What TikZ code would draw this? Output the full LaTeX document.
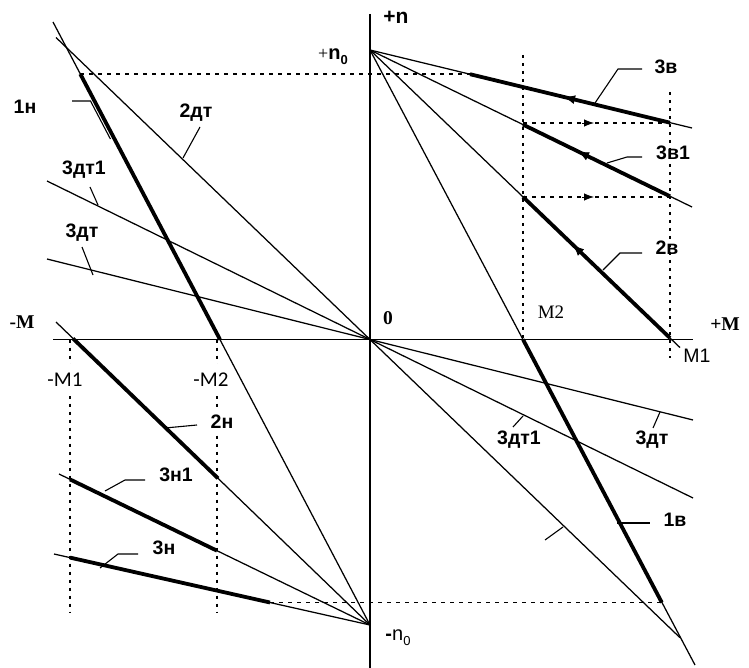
\documentclass[tikz,border=0pt]{standalone}
\usepackage{fontspec}
\setmainfont{Liberation Serif}
\setsansfont{Liberation Sans}
\newfontfamily\carl{Carlito}
\usetikzlibrary{arrows.meta}
\begin{document}
\begin{tikzpicture}[x=1pt,y=-1pt,
  thinln/.style={line width=1.25pt},
  thickln/.style={line width=3.8pt},
  axisln/.style={line width=1.1pt},
  dashln/.style={line width=1.2pt,dash pattern=on 4pt off 5pt},
  dotln/.style={line width=1.7pt,dash pattern=on 3pt off 5pt},
  leader/.style={line width=1.1pt},
  tipln/.style={line width=0.8pt,-{Latex[length=11pt,width=9pt]}},
  dtipln/.style={line width=0.8pt,-{Latex[length=10pt,width=7.5pt]}},
  lbl/.style={font=\fontsize{19.5}{22}\selectfont\sffamily\bfseries,inner sep=1pt},
  slbl/.style={font=\fontsize{19.5}{22}\selectfont\rmfamily\bfseries,inner sep=1pt},
  mlbl/.style={font=\fontsize{19}{22}\selectfont\rmfamily,inner sep=1pt},
  clbl/.style={font=\fontsize{21}{22}\selectfont\carl,inner sep=1pt},
  wbox/.style={fill=white,inner xsep=3pt,inner ysep=9pt}]
\useasboundingbox (0,0) rectangle (749,668);
% key points
\coordinate (N0) at (370,50);
\coordinate (O) at (370,339.5);
\coordinate (Nm) at (370,625);
% axes
\coordinate (ax1) at (53,339.5); \coordinate (ax2) at (693,339.5);
\coordinate (ay1) at (370,14);   \coordinate (ay2) at (370,668);
\draw[axisln] (ax1) -- (ax2);
\draw[axisln] (ay1) -- (ay2);
% dotted verticals
\coordinate (m2t) at (523,55);  \coordinate (m2b) at (523,339.5);
\coordinate (m1t) at (670,92);  \coordinate (m1b) at (670,358);
\coordinate (mm1t) at (70,339.5); \coordinate (mm1b) at (70,613);
\coordinate (mm2t) at (217,339.5); \coordinate (mm2b) at (217,613);
\draw[dotln] (m2t) -- (m2b);
\draw[dotln] (m1t) -- (m1b);
\draw[dotln] (mm1t) -- (mm1b);
\draw[dotln] (mm2t) -- (mm2b);
% dashed horizontals
\coordinate (d1a) at (80.3,74); \coordinate (d1b) at (470,74);
\coordinate (d2a) at (270,602.5); \coordinate (d2b) at (661.8,602.5);
\coordinate (d3a) at (523,123); \coordinate (d3b) at (670,123);
\coordinate (d4a) at (523,197); \coordinate (d4b) at (670,197);
\draw[dashln] (d1a) -- (d1b);
\draw[dashln] (d2a) -- (d2b);
\draw[dashln] (d3a) -- (d3b);
\draw[dashln] (d4a) -- (d4b);
% lines through origin
\coordinate (t2a) at (56,37.5);  \coordinate (t2b) at (680,637.7);
\coordinate (t31a) at (47,181);  \coordinate (t31b) at (693,498);
\coordinate (t3a) at (47,259);   \coordinate (t3b) at (693,420);
\draw[thinln] (t2a) -- (t2b);
\draw[thinln] (t31a) -- (t31b);
\draw[thinln] (t3a) -- (t3b);
% line 1n
\coordinate (l1a) at (53,22);
\draw[thinln] (l1a) -- (Nm);
\coordinate (l1s) at (80.3,74); \coordinate (l1e) at (220,339.5);
\draw[thickln] (l1s) -- (l1e);
% line 1v
\coordinate (v1e) at (695,665);
\draw[thinln] (N0) -- (v1e);
\coordinate (v1s) at (523,339.5); \coordinate (v1t) at (661.8,602.5);
\draw[thickln] (v1s) -- (v1t);
% 3v
\coordinate (v3e) at (692,128);
\draw[thinln] (N0) -- (v3e);
\coordinate (v3s) at (470,74.2); \coordinate (v3t) at (670,122.7);
\draw[thickln] (v3s) -- (v3t);
% 3v1
\coordinate (v31e) at (692,207);
\draw[thinln] (N0) -- (v31e);
\coordinate (v31s) at (523,124.6); \coordinate (v31t) at (670,196.3);
\draw[thickln] (v31s) -- (v31t);
% 2v
\coordinate (v2e) at (680,347.6);
\draw[thinln] (N0) -- (v2e);
\coordinate (v2s) at (523,196.9); \coordinate (v2t) at (670,338);
\draw[thickln] (v2s) -- (v2t);
% 2n
\coordinate (n2a) at (56,322);
\draw[thinln] (n2a) -- (Nm);
\coordinate (n2s) at (73,338.5); \coordinate (n2t) at (218,478.3);
\draw[thickln] (n2s) -- (n2t);
% 3n1
\coordinate (n31a) at (59,474);
\draw[thinln] (n31a) -- (Nm);
\coordinate (n31s) at (70,479.4); \coordinate (n31t) at (217,550.7);
\draw[thickln] (n31s) -- (n31t);
% 3n
\coordinate (n3a) at (54,554);
\draw[thinln] (n3a) -- (Nm);
\coordinate (n3s) at (70,557.6); \coordinate (n3t) at (270,602.5);
\draw[thickln] (n3s) -- (n3t);
% arrows
\coordinate (a1t) at (564,97.0);  \coordinate (a1b) at (575.7,99.9);
\coordinate (a2t) at (578,151.4); \coordinate (a2b) at (589,156.8);
\coordinate (a3t) at (573,244.9); \coordinate (a3b) at (582.2,253.7);
\coordinate (a4t) at (594,123);   \coordinate (a4b) at (582,123);
\coordinate (a5t) at (594,197);   \coordinate (a5b) at (582,197);
\draw[tipln] (a1b) -- (a1t);
\draw[tipln] (a2b) -- (a2t);
\draw[tipln] (a3b) -- (a3t);
\draw[dtipln] (a4b) -- (a4t);
\draw[dtipln] (a5b) -- (a5t);
% leaders
\draw[leader] (72,101) -- (90.5,101) -- (110.4,139);
\draw[leader] (200,127) -- (183,158);
\draw[leader] (90,187) -- (98,205);
\draw[leader] (82,247) -- (93,275);
\draw[leader] (595,103) -- (618,69) -- (642,69);
\draw[leader] (607,163) -- (627,157) -- (642,157);
\draw[leader] (603,270) -- (620,253) -- (642,253);
\draw[leader] (513,427) -- (523,416);
\draw[leader] (653,428) -- (660,412);
\draw[leader] (617,523) -- (650,523);
\draw[leader] (545,540) -- (563,527);
\draw[leader] (165,428) -- (197,425);
\draw[leader] (105,491) -- (125,480) -- (145,480);
\draw[leader] (100,568) -- (118,554) -- (138,554);
% labels
\node[lbl] (Ln) at (396,17) {\fontsize{21}{22}\selectfont +n};
\node[inner sep=1pt] (Ln0) at (333,57) {{\fontsize{18}{18}\selectfont\rmfamily +}{\fontsize{20}{22}\selectfont\sffamily\bfseries n\raisebox{-0.25em}{\fontsize{13}{14}\selectfont 0}}};
\node[inner sep=1pt] (Lmn0) at (398,638) {{\fontsize{20}{22}\selectfont\sffamily\bfseries -}{\fontsize{20}{22}\selectfont\sffamily n\raisebox{-0.25em}{\fontsize{13}{14}\selectfont 0}}};
\node[lbl] (L1n) at (25,107) {1н};
\node[lbl] (L2dt) at (196,113) {2дт};
\node[lbl] (L3dt1) at (84,170) {3дт1};
\node[lbl] (L3dt) at (82,233) {3дт};
\node[slbl] (LmM) at (22,322) {-M};
\node[slbl] (L0) at (388,318) {0};
\node[mlbl] (LM2) at (551,312) {M2};
\node[slbl] (LpM) at (725,324) {+M};
\node[inner sep=1pt,font=\fontsize{19.5}{22}\selectfont\sffamily] (LM1) at (697,356) {M1};
\node[lbl] (L3v) at (666,67) {3в};
\node[lbl] (L3v1) at (673,153) {3в1};
\node[lbl] (L2v) at (667,248) {2в};
\node[lbl] (L3dt1b) at (519,440) {3дт1};
\node[lbl] (L3dtb) at (652,440) {3дт};
\node[lbl] (L1v) at (675,520) {1в};
\node[clbl,wbox] (LmM1) at (65,380) {-M1};
\node[clbl,wbox] (LmM2) at (211,380) {-M2};
\node[lbl,fill=white,inner ysep=6pt,inner xsep=2pt] (L2n) at (222,422) {2н};
\node[lbl] (L3n1) at (176,475) {3н1};
\node[lbl] (L3n) at (164,548) {3н};
\end{tikzpicture}
\end{document}
